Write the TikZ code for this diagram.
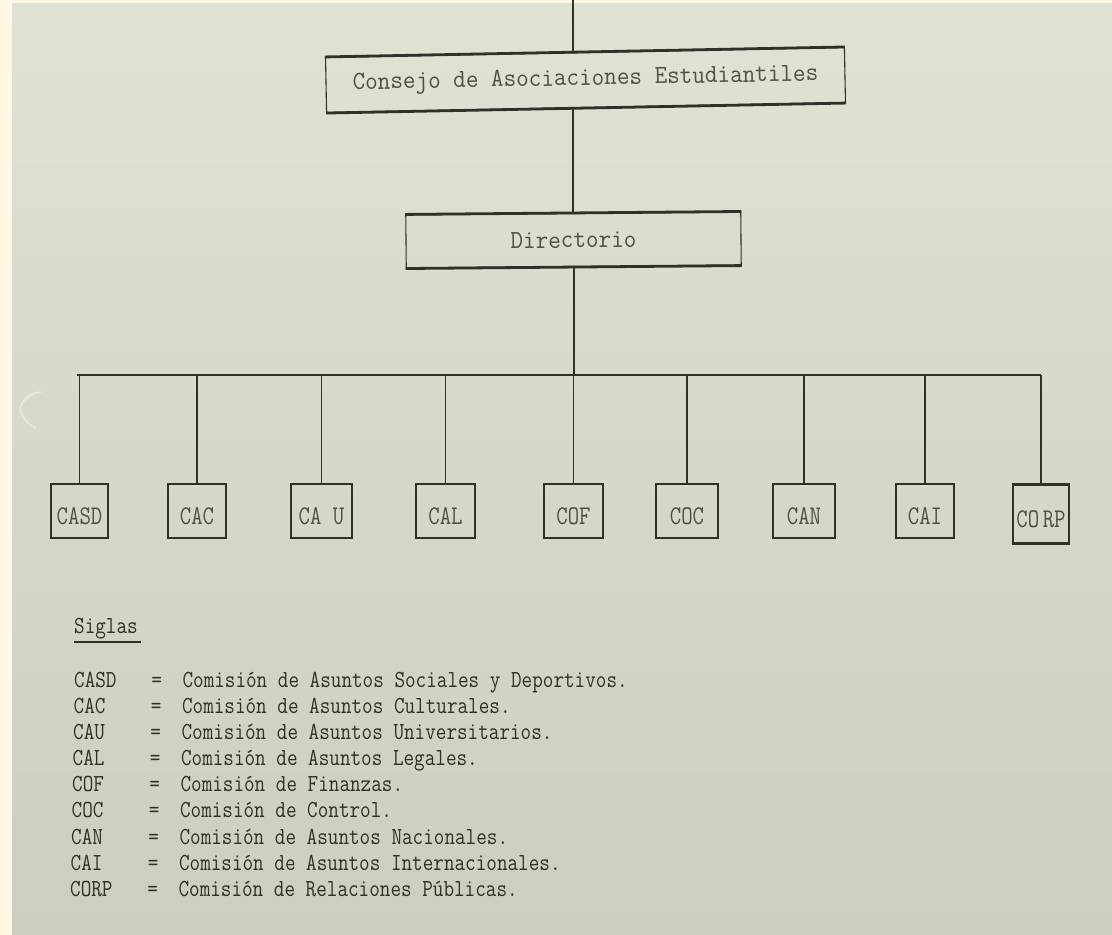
\documentclass[tikz,border=0pt]{standalone}
\usepackage{graphicx}
\definecolor{paperA}{RGB}{224,226,212}
\definecolor{paperB}{RGB}{204,207,191}
\definecolor{cream}{RGB}{255,248,229}
\definecolor{ink}{RGB}{45,49,40}
\definecolor{inklight}{RGB}{74,81,69}
\definecolor{crease}{RGB}{236,234,215}
\newcommand\tw[2]{\scalebox{#1}[1]{#2}}
\begin{document}
\begin{tikzpicture}[x=1pt,y=-1pt,
  conn/.style={draw=ink, line width=1.6pt},
  boxa/.style={draw=ink, line width=1.1pt, inner sep=0pt, anchor=center},
  heavy/.style={draw=ink, line width=2.8pt},
  big/.style={font=\fontsize{26}{28}\selectfont\ttfamily, text=inklight},
  small/.style={font=\fontsize{27}{29}\selectfont\ttfamily, text=inklight},
  leg/.style={font=\fontsize{24.5}{26}\selectfont\ttfamily, text=ink, anchor=base west, inner sep=0pt},
]
\useasboundingbox (0,0) rectangle (1112,935);
\shade[top color=paperA, bottom color=paperB] (0,0) rectangle (1112,935);
\fill[cream] (0,0) rectangle (12,935);
\fill[cream] (0,0) rectangle (1112,3);
\draw[crease, line width=1.6pt] (41,392) .. controls (27,393) and (18,405) .. (21,413) .. controls (24,420) and (30,426) .. (36,428);

% top boxes
\node[boxa, minimum width=519, minimum height=55, rotate=1.1, big] (consejo) at (585.5,80) {\tw{0.94}{Consejo de Asociaciones Estudiantiles}};
\node[boxa, minimum width=335, minimum height=53, rotate=0.5, big] (dir) at (573.5,240) {\tw{0.94}{Directorio}};
\foreach \n in {consejo,dir}{
  \draw[heavy] (\n.north west) -- (\n.north east);
  \draw[heavy] (\n.south west) -- (\n.south east);
}

% commission boxes
\foreach \name/\x/\y/\w/\h/\lab in {
  casd/79.5/511/57/53/CASD,
  cac/197/511/58/53/CAC,
  cau/321.5/511/61/53/CA U,
  cal/445.5/511/59/53/CAL,
  cof/573.5/511/59/53/COF,
  coc/687/511/62/53/COC,
  can/804/511/62/53/CAN,
  cai/925/511/58/53/CAI,
  corp/1041/514/56/58/CO\,RP}{
  \node[boxa, small, minimum width=\w, minimum height=\h] (\name) at (\x,\y)
    {\raisebox{-5pt}[\height][\depth]{\tw{0.82}{\lab}}};
  \draw[heavy, line width=2.4pt] (\name.north west) -- (\name.north east);
  \draw[heavy, line width=2.4pt] (\name.south west) -- (\name.south east);
}

% connectors
\coordinate (top) at (573,0);
\coordinate (bus) at (573,375);
\draw[conn] (top) -- (top |- consejo.north);
\draw[conn] (consejo.south -| dir.north) -- (dir.north);
\draw[conn] (dir.south) -- (dir.south |- bus);
\draw[conn, line width=2.4pt] ([xshift=-3pt]casd.north |- bus) -- (corp.north |- bus);
\foreach \n in {casd,cac,cau,cal,cof,coc,can,cai,corp}{
  \draw[conn] (\n.north |- bus) -- (\n.north);
}

% legend
\node[leg] (siglas) at (74,633) {\tw{0.84}{Siglas}};
\draw[ink, line width=1.8pt] ([yshift=-9pt]siglas.base west) -- ([yshift=-9pt,xshift=3pt]siglas.base east);

\foreach \i/\x/\y/\ab/\txt in {
  1/74/687/CASD/Comisión de Asuntos Sociales y Deportivos.,
  2/73.5/713/CAC/Comisión de Asuntos Culturales.,
  3/73/739/CAU/Comisión de Asuntos Universitarios.,
  4/72.5/765/CAL/Comisión de Asuntos Legales.,
  5/72/791/COF/Comisión de Finanzas.,
  6/71.5/817/COC/Comisión de Control.,
  7/71/844/CAN/Comisión de Asuntos Nacionales.,
  8/70.5/870/CAI/Comisión de Asuntos Internacionales.,
  9/70/896/CORP/Comisión de Relaciones Públicas.}{
  \node[leg] (row\i) at (\x,\y)
    {\tw{0.84}{\makebox[92pt][l]{\ab}\makebox[37pt][l]{=}\txt}};
}
\end{tikzpicture}
\end{document}
